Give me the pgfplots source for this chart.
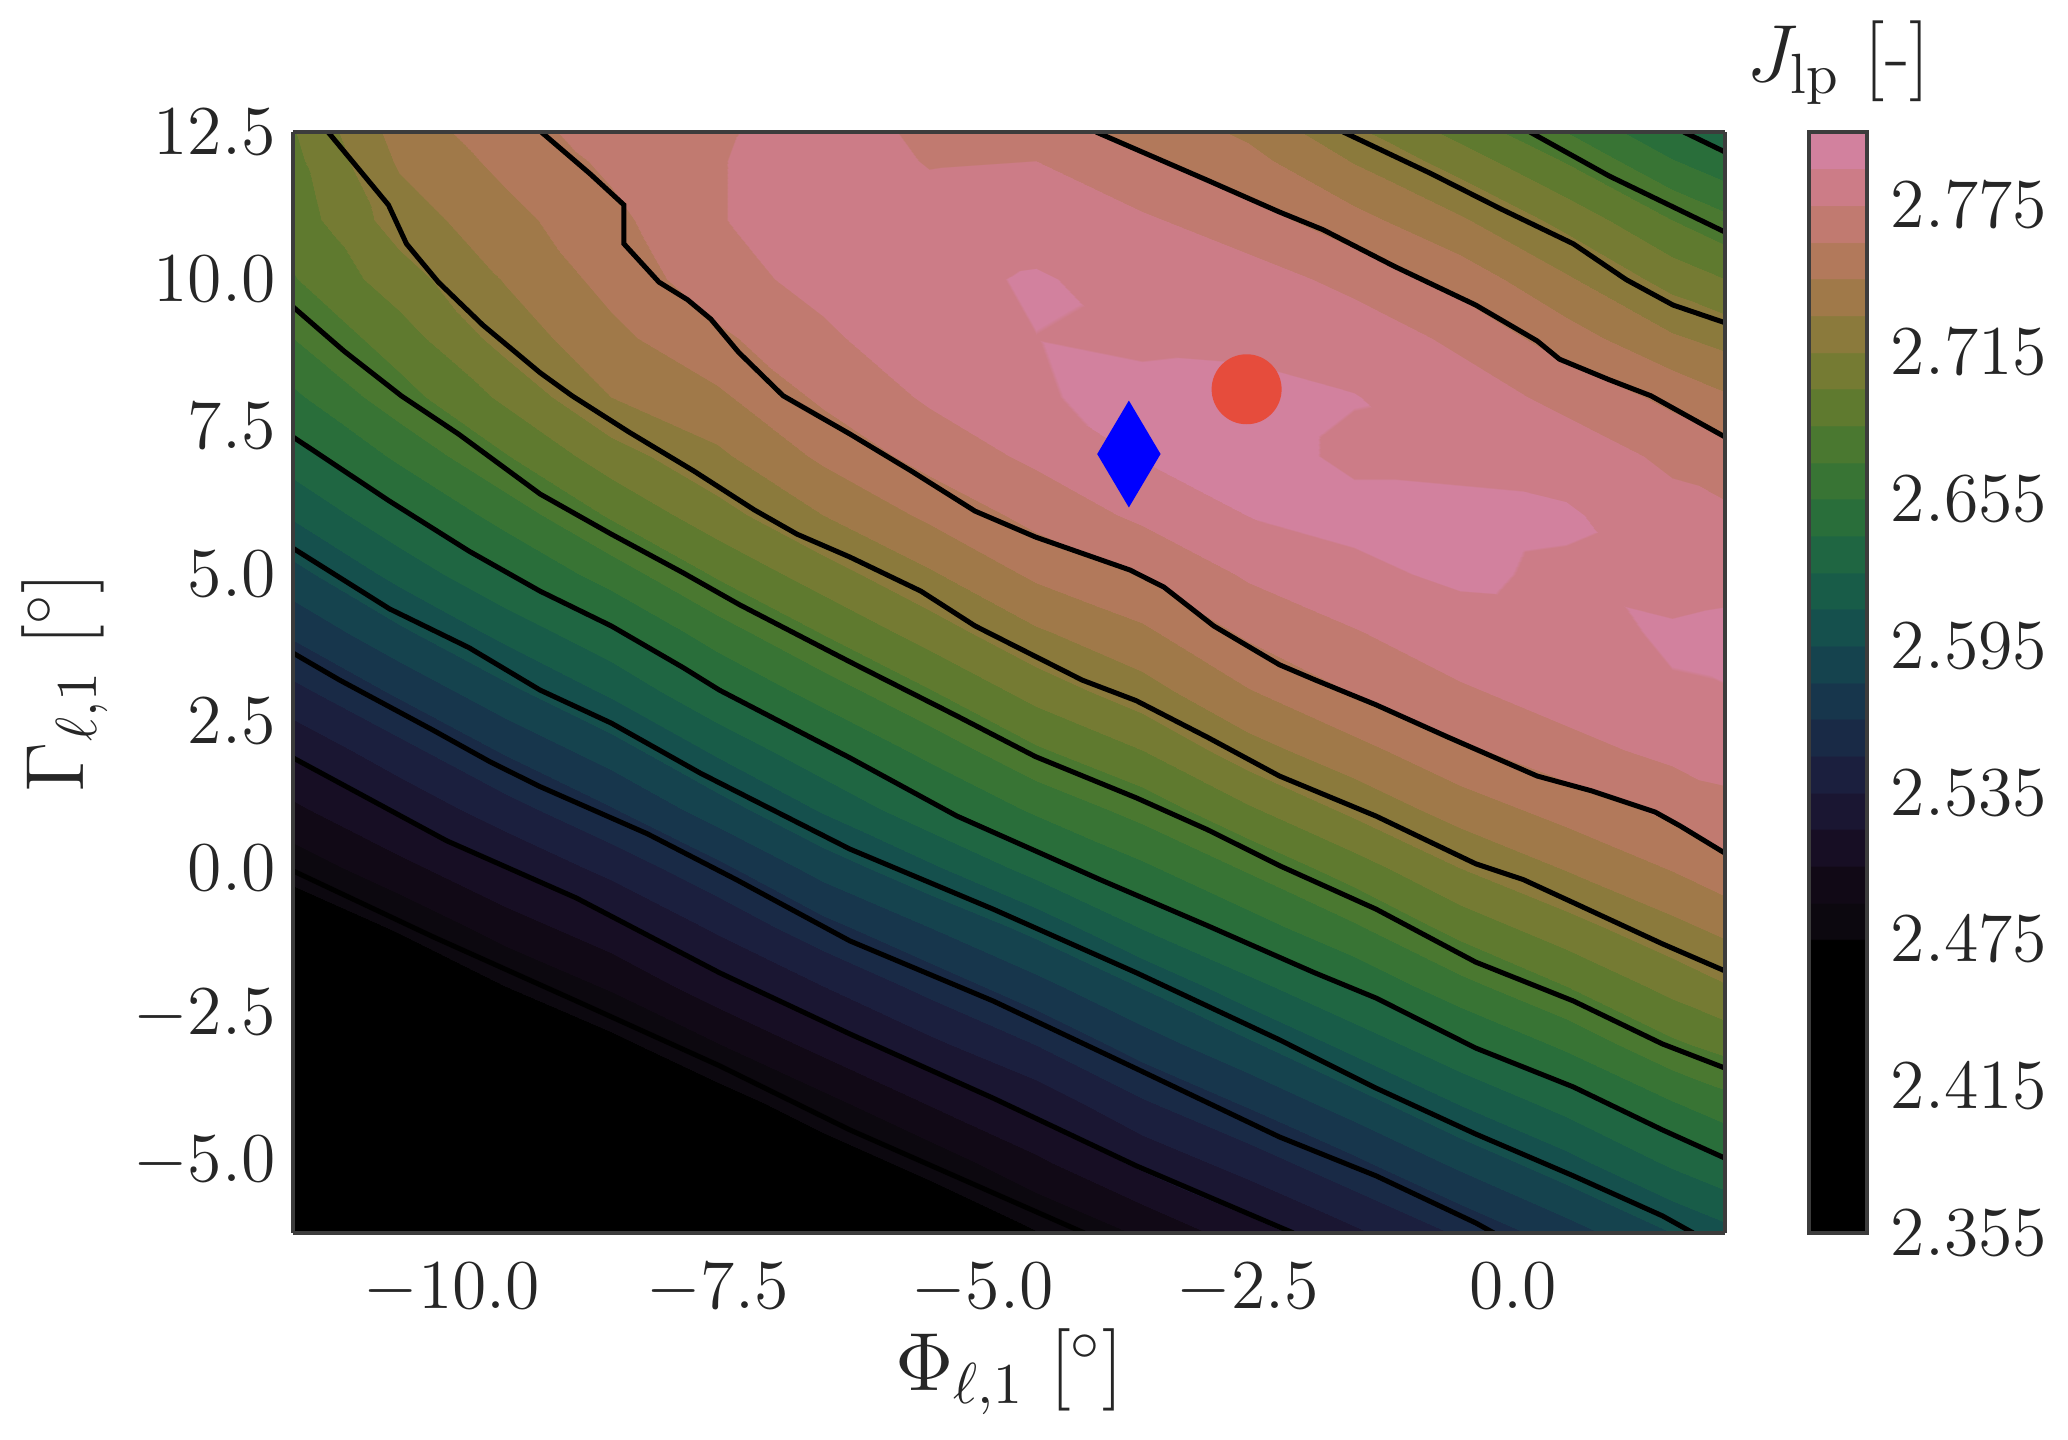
\RequirePackage{fix-cm}
\documentclass[border=0pt]{standalone}
\usepackage{pgfplots}
\pgfplotsset{compat=1.18}
\definecolor{framegray}{RGB}{60,60,60}
\definecolor{labelgray}{RGB}{38,38,38}
\definecolor{markred}{RGB}{230,76,60}

\begin{document}
\begin{tikzpicture}
\begin{axis}[
  view={0}{90},
  scale only axis,
  width=286.4pt, height=220.2pt,
  xmin=-11.5, xmax=2.0, ymin=-6.2, ymax=12.5,
  zmin=2.3, zmax=2.9, ztick=\empty,
  axis on top,
  xtick={-10,-7.5,-5,-2.5,0},
  ytick={-5,-2.5,0,2.5,5,7.5,10,12.5},
  xticklabel style={yshift=-2.6pt, /pgf/number format/.cd, fixed, fixed zerofill, precision=1},
  yticklabel style={/pgf/number format/.cd, fixed, fixed zerofill, precision=1},
  tick label style={font=\fontsize{14}{16}\selectfont, text=labelgray},
  major tick length=0pt,
  axis line style={draw=framegray, line width=0.8pt},
  xlabel={$\Phi_{\ell,1}$ [$^\circ$]},
  ylabel={$\Gamma_{\ell,1}$ [$^\circ$]},
  label style={font=\fontsize{16.5}{19}\selectfont, text=labelgray},
  xlabel style={at={(axis description cs:0.5,-0.126)}, anchor=center},
  ylabel style={at={(axis description cs:-0.1595,0.5)}, anchor=center},
  % 30 contour bands of width 0.015 between 2.355 and 2.805
  colormap={cubeh}{
    rgb255(0cm)=(0,0,0) rgb255(7.99cm)=(0,0,0)
    rgb255(8cm)=(12,8,15) rgb255(8.99cm)=(12,8,15)
    rgb255(9cm)=(17,9,22) rgb255(9.99cm)=(17,9,22)
    rgb255(10cm)=(23,14,36) rgb255(10.99cm)=(23,14,36)
    rgb255(11cm)=(26,22,50) rgb255(11.99cm)=(26,22,50)
    rgb255(12cm)=(27,31,62) rgb255(12.99cm)=(27,31,62)
    rgb255(13cm)=(25,42,70) rgb255(13.99cm)=(25,42,70)
    rgb255(14cm)=(23,54,76) rgb255(14.99cm)=(23,54,76)
    rgb255(15cm)=(21,67,78) rgb255(15.99cm)=(21,67,78)
    rgb255(16cm)=(21,80,77) rgb255(16.99cm)=(21,80,77)
    rgb255(17cm)=(24,92,72) rgb255(17.99cm)=(24,92,72)
    rgb255(18cm)=(31,102,66) rgb255(18.99cm)=(31,102,66)
    rgb255(19cm)=(41,110,58) rgb255(19.99cm)=(41,110,58)
    rgb255(20cm)=(56,116,52) rgb255(20.99cm)=(56,116,52)
    rgb255(21cm)=(74,120,48) rgb255(21.99cm)=(74,120,48)
    rgb255(22cm)=(95,122,47) rgb255(22.99cm)=(95,122,47)
    rgb255(23cm)=(117,123,51) rgb255(23.99cm)=(117,123,51)
    rgb255(24cm)=(139,122,60) rgb255(24.99cm)=(139,122,60)
    rgb255(25cm)=(160,121,73) rgb255(25.99cm)=(160,121,73)
    rgb255(26cm)=(178,121,91) rgb255(26.99cm)=(178,121,91)
    rgb255(27cm)=(193,122,112) rgb255(27.99cm)=(193,122,112)
    rgb255(28cm)=(204,124,135) rgb255(28.99cm)=(204,124,135)
    rgb255(29cm)=(210,129,158) rgb255(30cm)=(210,129,158)
  },
  point meta min=2.355, point meta max=2.805,
  colorbar,
  colorbar style={
    scale only axis,
    width=11.6pt, height=220.2pt,
    at={(parent axis.north east)}, anchor=north west, xshift=8.3pt,
    ytick={2.355,2.415,2.475,2.535,2.595,2.655,2.715,2.775},
    yticklabel style={font=\fontsize{14}{16}\selectfont, text=labelgray,
      xshift=1.2pt, /pgf/number format/.cd, fixed, fixed zerofill, precision=3},
    major tick length=0pt,
    axis line style={draw=framegray, line width=0.8pt},
    title={$J_{\mathrm{lp}}$ [-]},
    title style={font=\fontsize{16.2}{19}\selectfont, text=labelgray,
      at={(0.5,1)}, anchor=center, yshift=7.8pt},
  },
]
\coordinate (bl) at (rel axis cs:0,0,0);
\coordinate (tr) at (rel axis cs:1,1,0);

% objective J_lp on the (Phi, Gamma) grid
\addplot3[surf, shader=interp, mesh/cols=15, mesh/rows=20, mesh/ordering=x varies] table {
x y z
-11.5 -6.2 2.369
-10.5 -6.2 2.378
-9.5 -6.2 2.391
-8.5 -6.2 2.406
-7.5 -6.2 2.423
-6.5 -6.2 2.441
-5.5 -6.2 2.457
-4.5 -6.2 2.474
-3.5 -6.2 2.492
-2.5 -6.2 2.513
-1.5 -6.2 2.532
-0.5 -6.2 2.552
0.5 -6.2 2.573
1.5 -6.2 2.595
2.0 -6.2 2.605
-11.5 -5 2.387
-10.5 -5 2.398
-9.5 -5 2.415
-8.5 -5 2.431
-7.5 -5 2.447
-6.5 -5 2.465
-5.5 -5 2.481
-4.5 -5 2.502
-3.5 -5 2.524
-2.5 -5 2.542
-1.5 -5 2.562
-0.5 -5 2.584
0.5 -5 2.605
1.5 -5 2.628
2.0 -5 2.638
-11.5 -4 2.404
-10.5 -4 2.418
-9.5 -4 2.435
-8.5 -4 2.451
-7.5 -4 2.467
-6.5 -4 2.485
-5.5 -4 2.506
-4.5 -4 2.525
-3.5 -4 2.548
-2.5 -4 2.567
-1.5 -4 2.588
-0.5 -4 2.611
0.5 -4 2.631
1.5 -4 2.654
2.0 -4 2.664
-11.5 -3 2.422
-10.5 -3 2.438
-9.5 -3 2.455
-8.5 -3 2.470
-7.5 -3 2.489
-6.5 -3 2.510
-5.5 -3 2.531
-4.5 -3 2.550
-3.5 -3 2.572
-2.5 -3 2.592
-1.5 -3 2.615
-0.5 -3 2.637
0.5 -3 2.658
1.5 -3 2.682
2.0 -3 2.690
-11.5 -2 2.442
-10.5 -2 2.458
-9.5 -2 2.475
-8.5 -2 2.492
-7.5 -2 2.514
-6.5 -2 2.535
-5.5 -2 2.555
-4.5 -2 2.575
-3.5 -2 2.596
-2.5 -2 2.620
-1.5 -2 2.642
-0.5 -2 2.665
0.5 -2 2.685
1.5 -2 2.705
2.0 -2 2.714
-11.5 -1 2.461
-10.5 -1 2.477
-9.5 -1 2.497
-8.5 -1 2.515
-7.5 -1 2.538
-6.5 -1 2.560
-5.5 -1 2.580
-4.5 -1 2.600
-3.5 -1 2.626
-2.5 -1 2.648
-1.5 -1 2.668
-0.5 -1 2.691
0.5 -1 2.709
1.5 -1 2.726
2.0 -1 2.734
-11.5 0 2.481
-10.5 0 2.500
-9.5 0 2.520
-8.5 0 2.540
-7.5 0 2.561
-6.5 0 2.586
-5.5 0 2.607
-4.5 0 2.631
-3.5 0 2.652
-2.5 0 2.672
-1.5 0 2.693
-0.5 0 2.715
0.5 0 2.731
1.5 0 2.746
2.0 0 2.755
-11.5 1 2.502
-10.5 1 2.523
-9.5 1 2.544
-8.5 1 2.564
-7.5 1 2.588
-6.5 1 2.612
-5.5 1 2.636
-4.5 1 2.658
-3.5 1 2.676
-2.5 1 2.698
-1.5 1 2.719
-0.5 1 2.737
0.5 1 2.751
1.5 1 2.764
2.0 1 2.771
-11.5 2 2.523
-10.5 2 2.545
-9.5 2 2.567
-8.5 2 2.588
-7.5 2 2.613
-6.5 2 2.637
-5.5 2 2.660
-4.5 2 2.683
-3.5 2 2.700
-2.5 2 2.724
-1.5 2 2.740
-0.5 2 2.757
0.5 2 2.770
1.5 2 2.779
2.0 2 2.781
-11.5 3 2.546
-10.5 3 2.568
-9.5 3 2.591
-8.5 3 2.613
-7.5 3 2.639
-6.5 3 2.662
-5.5 3 2.684
-4.5 3 2.706
-3.5 3 2.724
-2.5 3 2.744
-1.5 3 2.761
-0.5 3 2.773
0.5 3 2.782
1.5 3 2.789
2.0 3 2.7895
-11.5 4 2.568
-10.5 4 2.592
-9.5 4 2.615
-8.5 4 2.637
-7.5 4 2.663
-6.5 4 2.686
-5.5 4 2.707
-4.5 4 2.728
-3.5 4 2.742
-2.5 4 2.763
-1.5 4 2.774
-0.5 4 2.785
0.5 4 2.786
1.5 4 2.7915
2.0 4 2.793
-11.5 5 2.590
-10.5 5 2.615
-9.5 5 2.639
-8.5 5 2.662
-7.5 5 2.687
-6.5 5 2.708
-5.5 5 2.728
-4.5 5 2.748
-3.5 5 2.761
-2.5 5 2.777
-1.5 5 2.7875
-0.5 5 2.792
0.5 5 2.788
1.5 5 2.785
2.0 5 2.786
-11.5 6 2.612
-10.5 6 2.637
-9.5 6 2.661
-8.5 6 2.687
-7.5 6 2.709
-6.5 6 2.730
-5.5 6 2.748
-4.5 6 2.765
-3.5 6 2.778
-2.5 6 2.7902
-1.5 6 2.793
-0.5 6 2.793
0.5 6 2.792
1.5 6 2.780
2.0 6 2.778
-11.5 7 2.633
-10.5 7 2.658
-9.5 7 2.684
-8.5 7 2.708
-7.5 7 2.727
-6.5 7 2.748
-5.5 7 2.766
-4.5 7 2.778
-3.5 7 2.791
-2.5 7 2.794
-1.5 7 2.788
-0.5 7 2.787
0.5 7 2.783
1.5 7 2.772
2.0 7 2.766
-11.5 8 2.652
-10.5 8 2.679
-9.5 8 2.703
-8.5 8 2.730
-7.5 8 2.742
-6.5 8 2.763
-5.5 8 2.777
-4.5 8 2.789
-3.5 8 2.793
-2.5 8 2.794
-1.5 8 2.7905
-0.5 8 2.782
0.5 8 2.771
1.5 8 2.756
2.0 8 2.747
-11.5 9 2.670
-10.5 9 2.693
-9.5 9 2.721
-8.5 9 2.741
-7.5 9 2.757
-6.5 9 2.772
-5.5 9 2.786
-4.5 9 2.7898
-3.5 9 2.788
-2.5 9 2.787
-1.5 9 2.783
-0.5 9 2.772
0.5 9 2.752
1.5 9 2.732
2.0 9 2.725
-11.5 10 2.684
-10.5 10 2.708
-9.5 10 2.731
-8.5 10 2.750
-7.5 10 2.769
-6.5 10 2.780
-5.5 10 2.786
-4.5 10 2.7915
-3.5 10 2.784
-2.5 10 2.781
-1.5 10 2.771
-0.5 10 2.754
0.5 10 2.732
1.5 10 2.709
2.0 10 2.700
-11.5 11 2.692
-10.5 11 2.722
-9.5 11 2.740
-8.5 11 2.756
-7.5 11 2.774
-6.5 11 2.784
-5.5 11 2.781
-4.5 11 2.783
-3.5 11 2.777
-2.5 11 2.767
-1.5 11 2.750
-0.5 11 2.732
0.5 11 2.710
1.5 11 2.685
2.0 11 2.674
-11.5 12 2.696
-10.5 12 2.732
-9.5 12 2.749
-8.5 12 2.763
-7.5 12 2.774
-6.5 12 2.784
-5.5 12 2.774
-4.5 12 2.775
-3.5 12 2.763
-2.5 12 2.750
-1.5 12 2.729
-0.5 12 2.708
0.5 12 2.684
1.5 12 2.656
2.0 12 2.645
-11.5 12.5 2.699
-10.5 12.5 2.736
-9.5 12.5 2.754
-8.5 12.5 2.766
-7.5 12.5 2.773
-6.5 12.5 2.782
-5.5 12.5 2.772
-4.5 12.5 2.764
-3.5 12.5 2.756
-2.5 12.5 2.742
-1.5 12.5 2.718
-0.5 12.5 2.695
0.5 12.5 2.670
1.5 12.5 2.642
2.0 12.5 2.632
};

% black contour lines (levels 2.76, 2.72, ..., 2.48)
\addplot3[black, line width=1pt] coordinates {
(-9.16,12.5,2.8) (-8.70,11.79,2.8) (-8.38,11.26,2.8) (-8.38,10.60,2.8) (-8.05,9.95,2.8)
(-7.78,9.65,2.8) (-7.56,9.32,2.8) (-7.30,8.76,2.8) (-6.88,8.02,2.8) (-6.25,7.37,2.8)
(-5.67,6.74,2.8) (-5.07,6.06,2.8) (-4.50,5.62,2.8) (-3.61,5.06,2.8) (-3.29,4.77,2.8)
(-2.82,4.11,2.8) (-2.20,3.45,2.8) (-1.86,3.19,2.8) (-1.29,2.77,2.8) (-0.61,2.22,2.8)
(0.23,1.56,2.8) (0.74,1.31,2.8) (1.34,0.95,2.8) (1.58,0.71,2.8) (2.0,0.25,2.8)
};
\addplot3[black, line width=1pt] coordinates {
(-3.93,12.5,2.8) (-2.88,11.68,2.8) (-2.20,11.14,2.8) (-1.79,10.84,2.8) (-1.12,10.22,2.8)
(-0.35,9.56,2.8) (0.23,8.95,2.8) (0.44,8.64,2.8) (0.91,8.29,2.8) (1.30,8.02,2.8) (2.0,7.32,2.8)
};
\addplot3[black, line width=1pt] coordinates {
(-11.17,12.5,2.8) (-10.60,11.26,2.8) (-10.43,10.60,2.8) (-10.13,9.95,2.8) (-9.71,9.22,2.8)
(-9.17,8.41,2.8) (-8.87,8.02,2.8) (-8.33,7.40,2.8) (-7.72,6.74,2.8) (-7.15,6.08,2.8)
(-6.75,5.67,2.8) (-6.25,5.28,2.8) (-5.58,4.70,2.8) (-5.07,4.11,2.8) (-4.40,3.50,2.8)
(-4.06,3.19,2.8) (-3.55,2.84,2.8) (-2.88,2.22,2.8) (-2.20,1.56,2.8) (-1.29,0.88,2.8)
(-0.35,0.07,2.8) (0.10,-0.20,2.8) (0.57,-0.59,2.8) (1.41,-1.29,2.8) (2.0,-1.75,2.8)
};
\addplot3[black, line width=1pt] coordinates {
(-1.60,12.5,2.8) (-0.78,11.80,2.8) (-0.11,11.19,2.8) (0.57,10.60,2.8) (1.07,9.99,2.8)
(1.51,9.56,2.8) (2.0,9.26,2.8)
};
\addplot3[black, line width=1pt] coordinates {
(-11.5,9.53,2.8) (-11.02,8.78,2.8) (-10.48,8.02,2.8) (-9.94,7.37,2.8) (-9.17,6.35,2.8)
(-8.50,5.67,2.8) (-7.82,5.01,2.8) (-7.29,4.47,2.8) (-6.25,3.50,2.8) (-5.91,3.19,2.8)
(-5.24,2.58,2.8) (-4.50,1.89,2.8) (-3.55,1.19,2.8) (-2.88,0.65,2.8) (-2.19,0.03,2.8)
(-1.29,-0.70,2.8) (-0.35,-1.60,2.8) (0.57,-2.26,2.8) (1.41,-2.99,2.8) (2.0,-3.40,2.8)
};
\addplot3[black, line width=1pt] coordinates {
(0.16,12.5,2.8) (0.91,11.75,2.8) (2.0,10.80,2.8)
};
\addplot3[black, line width=1pt] coordinates {
(1.61,12.5,2.8) (2.0,12.16,2.8)
};
\addplot3[black, line width=1pt] coordinates {
(-11.5,7.32,2.8) (-10.59,6.23,2.8) (-9.84,5.38,2.8) (-9.17,4.70,2.8) (-8.50,4.11,2.8)
(-7.82,3.40,2.8) (-7.48,3.02,2.8) (-6.25,1.87,2.8) (-5.24,0.88,2.8) (-3.89,-0.20,2.8)
(-2.88,-0.98,2.8) (-1.87,-1.78,2.8) (-1.29,-2.21,2.8) (-0.35,-3.06,2.8) (0.57,-3.72,2.8)
(1.41,-4.45,2.8) (2.0,-4.93,2.8)
};
\addplot3[black, line width=1pt] coordinates {
(-11.5,5.43,2.8) (-10.59,4.40,2.8) (-9.84,3.74,2.8) (-9.17,3.02,2.8) (-8.50,2.46,2.8)
(-7.66,1.61,2.8) (-6.25,0.32,2.8) (-4.90,-0.70,2.8) (-3.55,-1.78,2.8) (-2.20,-2.92,2.8)
(-1.29,-3.74,2.8) (-0.35,-4.52,2.8) (0.57,-5.23,2.8) (1.41,-5.91,2.8) (1.70,-6.2,2.8)
};
\addplot3[black, line width=1pt] coordinates {
(-11.5,3.65,2.8) (-11.06,3.19,2.8) (-10.18,2.34,2.8) (-9.64,1.80,2.8) (-9.17,1.38,2.8)
(-8.16,0.58,2.8) (-7.32,-0.20,2.8) (-6.25,-1.24,2.8) (-4.90,-2.26,2.8) (-3.55,-3.41,2.8)
(-2.20,-4.57,2.8) (-1.29,-5.23,2.8) (-0.35,-6.03,2.8) (-0.18,-6.2,2.8)
};
\addplot3[black, line width=1pt] coordinates {
(-11.5,1.87,2.8) (-10.05,0.46,2.8) (-8.83,-0.51,2.8) (-7.48,-1.78,2.8) (-6.25,-2.82,2.8)
(-4.90,-3.91,2.8) (-3.55,-5.06,2.8) (-2.07,-6.2,2.8)
};
\addplot3[black, line width=1pt] coordinates {
(-11.5,-0.05,2.8) (-10.18,-1.17,2.8) (-8.83,-2.26,2.8) (-7.48,-3.36,2.8) (-6.25,-4.45,2.8)
(-4.04,-6.2,2.8)
};

% optimum markers
\addplot3[only marks, mark=*, mark size=6.8pt, mark options={draw=markred, fill=markred}]
  coordinates {(-2.51,8.13,2.8)};
\addplot3[only marks, mark=diamond*, mark size=10.3pt,
  mark options={xscale=0.79, draw=blue, fill=blue}]
  coordinates {(-3.62,7.03,2.8)};
\end{axis}
\pgfresetboundingbox
\path[use as bounding box] ([xshift=-58.6pt,yshift=-41.4pt]bl) rectangle ([xshift=68.6pt,yshift=26.4pt]tr);
\end{tikzpicture}
\end{document}
